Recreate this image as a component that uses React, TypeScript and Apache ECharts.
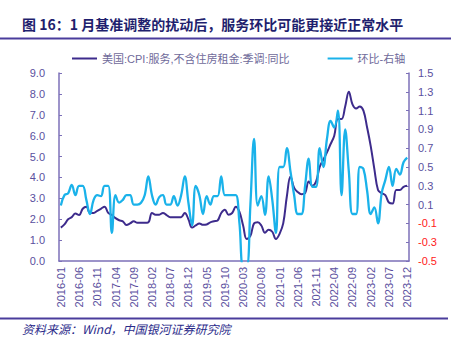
import React, { useEffect, useRef } from "react";
import * as echarts from "echarts";

const startYear = 2016;
const endYear = 2023;
const months: string[] = [];
for (let y = startYear; y <= endYear; y++) {
  for (let m = 1; m <= 12; m++) months.push(`${y}-${String(m).padStart(2, "0")}`);
}

// 美国:CPI:服务,不含住房租金:季调:同比 (left axis, %)
const yoy = [
  1.6, 1.75, 2.0, 2.1, 2.27, 2.2, 2.5, 2.6, 2.3, 2.3,
  2.4, 2.5, 2.6, 2.3, 2.2, 2.05, 1.95, 1.9, 1.72, 1.8,
  1.9, 1.83, 1.83, 1.83, 1.85, 2.3, 2.22, 2.22, 2.3, 2.2,
  2.1, 2.1, 2.1, 2.1, 2.3, 2.0, 1.6, 1.7, 1.8, 1.73,
  1.75, 1.85, 1.9, 1.94, 2.3, 2.45, 2.22, 2.3, 2.6, 2.35,
  1.7, 1.05, 1.2, 1.8, 1.85, 1.7, 1.35, 1.5, 1.4, 1.05,
  1.3, 1.8, 3.1, 4.05, 3.5, 3.3, 3.2, 3.25, 3.8, 3.6,
  3.8, 4.5, 4.85, 5.2, 5.6, 6.0, 6.8, 6.8, 7.4, 8.1,
  7.5, 7.3, 7.4, 7.2, 6.4, 5.5, 4.4, 3.4, 3.25, 3.15,
  2.8, 2.75, 3.4, 3.4, 3.55, 3.6,
];

// 环比-右轴 (right axis, %)
const mom = [
  0.09, 0.2, 0.22, 0.31, 0.2, 0.3, 0.3, 0.15, 0.0, 0.15,
  0.2, 0.19, 0.3, 0.3, -0.2, 0.2, 0.12, 0.15, 0.2, 0.2,
  0.1, 0.1, 0.12, 0.2, 0.4, 0.2, 0.1, 0.18, 0.2, 0.1,
  0.1, 0.19, 0.09, 0.2, 0.4, 0.12, -0.12, 0.3, 0.2, 0.0,
  0.19, 0.1, 0.19, 0.19, 0.4, 0.2, 0.2, 0.2, 0.2, -0.1,
  -0.55, -0.55, 0.1, 0.8, 0.09, 0.19, -0.01, 0.4, 0.15, -0.2,
  0.5, 0.5, 0.7, 0.45, 0.2, 0.0, 0.0, 0.3, 0.59, 0.29,
  0.29, 0.7, 0.5, 0.8, 0.99, 0.92, 1.1, 0.2, 0.9, 0.45,
  0.0, 0.0, 0.5, 0.48, 0.25, 0.0, 0.07, -0.1, 0.22, 0.36,
  0.5, 0.3, 0.48, 0.42, 0.55, 0.6,
];

const seriesNames = ["美国:CPI:服务,不含住房租金:季调:同比", "环比-右轴"];
const titleText = "图 16：1 月基准调整的扰动后，服务环比可能更接近正常水平";
const sourceText = "资料来源：Wind，中国银河证券研究院";

const FONT = "'Liberation Sans', 'Noto Sans CJK SC', sans-serif";
const AXIS_COLOR = "#7c70b8";
const LABEL_COLOR = "#5a4f9e";
const DARK = "#3d2b8c";
const LIGHT = "#1ab2ea";

export default function App() {
  const ref = useRef<HTMLDivElement>(null);
  useEffect(() => {
    if (!ref.current) return;
    const chart = echarts.init(ref.current, undefined, { renderer: "svg" });
    chart.setOption({
      animation: false,
      backgroundColor: "#ffffff",
      textStyle: { fontFamily: FONT },
      grid: { left: 59, right: 42, top: 73, bottom: 80 },
      legend: {
        left: 67,
        top: 48,
        icon: "rect",
        itemWidth: 25,
        itemHeight: 2,
        itemGap: 38,
        textStyle: { fontSize: 11, color: "#6f6a9a", fontFamily: FONT },
        data: [
          { name: seriesNames[0], itemStyle: { color: DARK } },
          { name: seriesNames[1], itemStyle: { color: LIGHT } },
        ],
      },
      graphic: [
        {
          type: "text",
          left: 22,
          top: 17,
          style: {
            text: titleText,
            font: "bold 14px 'Noto Sans CJK SC', sans-serif",
            fill: "#1f1f6e",
          },
        },
        {
          type: "line",
          shape: { x1: 0, y1: 38.5, x2: 451, y2: 38.5 },
          style: { stroke: "#4a3c9c", lineWidth: 2 },
        },
        {
          type: "line",
          shape: { x1: 0, y1: 318.5, x2: 448, y2: 318.5 },
          style: { stroke: "#4a3c9c", lineWidth: 2 },
        },
        {
          type: "text",
          left: 22,
          top: 322,
          style: {
            text: sourceText,
            font: "italic 12px 'Noto Sans CJK SC', serif",
            fill: "#2b2b8a",
          },
        },
      ],
      xAxis: {
        type: "category",
        data: months,
        boundaryGap: true,
        axisLine: { lineStyle: { color: AXIS_COLOR, width: 1.5 } },
        axisTick: { inside: true, length: 3, interval: 4, lineStyle: { color: AXIS_COLOR } },
        axisLabel: {
          interval: 4,
          rotate: 90,
          fontSize: 11,
          color: LABEL_COLOR,
          margin: 6,
          fontFamily: FONT,
        },
        splitLine: { show: false },
      },
      yAxis: [
        {
          type: "value",
          min: 0,
          max: 9,
          interval: 1,
          axisLine: { show: true, lineStyle: { color: AXIS_COLOR, width: 1.5 } },
          axisTick: { show: true, inside: true, length: 3, lineStyle: { color: AXIS_COLOR } },
          axisLabel: {
            fontSize: 11,
            color: LABEL_COLOR,
            margin: 14,
            formatter: (v: number) => v.toFixed(1),
          },
          splitLine: { show: false },
        },
        {
          type: "value",
          min: -0.5,
          max: 1.5,
          interval: 0.2,
          axisLine: { show: true, lineStyle: { color: AXIS_COLOR, width: 1.5 } },
          axisTick: { show: true, inside: true, length: 3, lineStyle: { color: AXIS_COLOR } },
          axisLabel: {
            fontSize: 11,
            margin: 9,
            color: (v: any) => (Number(v) < 0 ? "#ff1a1a" : LABEL_COLOR),
            formatter: (v: number) => v.toFixed(1),
          },
          splitLine: { show: false },
        },
      ],
      series: [
        {
          name: seriesNames[0],
          type: "line",
          data: yoy,
          yAxisIndex: 0,
          smooth: 0.4,
          symbol: "none",
          lineStyle: { color: DARK, width: 2 },
          itemStyle: { color: DARK },
        },
        {
          name: seriesNames[1],
          type: "line",
          data: mom,
          yAxisIndex: 1,
          smooth: 0.4,
          symbol: "none",
          clip: true,
          lineStyle: { color: LIGHT, width: 2.3 },
          itemStyle: { color: LIGHT },
        },
      ],
    });
    return () => chart.dispose();
  }, []);
  return (
    <div
      ref={ref}
      style={{ position: "fixed", left: 0, top: 0, width: 451, height: 341, background: "#fff" }}
    />
  );
}
